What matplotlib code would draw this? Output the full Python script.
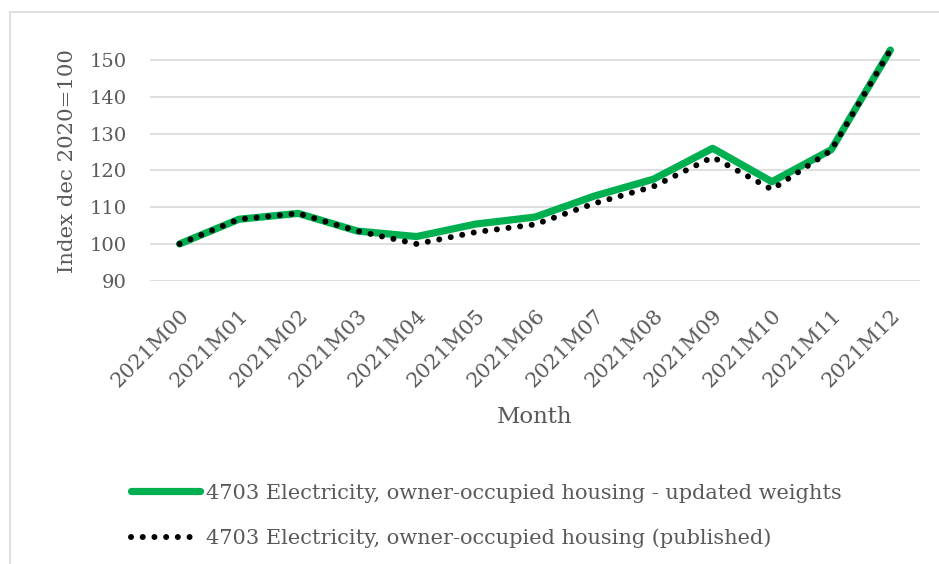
import matplotlib
matplotlib.use("Agg")
import matplotlib.pyplot as plt
from matplotlib.patches import Rectangle

months = ["2021M00", "2021M01", "2021M02", "2021M03", "2021M04", "2021M05", "2021M06",
          "2021M07", "2021M08", "2021M09", "2021M10", "2021M11", "2021M12"]
updated = [100.0, 106.7, 108.3, 103.5, 102.0, 105.4, 107.3, 113.0, 117.6, 126.0, 116.9, 125.6, 152.7]
published = [100.0, 106.7, 108.3, 103.5, 100.0, 103.2, 105.3, 111.0, 115.6, 123.6, 114.8, 125.4, 152.7]
yticks = [90, 100, 110, 120, 130, 140, 150]

plt.rcParams['font.family'] = ['DejaVu Serif']
txt = '#595959'

fig = plt.figure(figsize=(9.39, 5.64), dpi=100)
# left/top outer border of the chart area
fig.patches.append(Rectangle((10 / 939, -0.1), 1.2, 1.1 - 12 / 564, transform=fig.transFigure,
                             fill=False, edgecolor='#D9D9D9', linewidth=1.2))

ax = fig.add_axes([150 / 939, 1 - 280.7 / 564, 770 / 939, (280.7 - 41.6) / 564])
x = list(range(len(months)))
ax.plot(x, updated, color='#00B050', linewidth=5.2, solid_capstyle='round', solid_joinstyle='round',
        label='4703 Electricity, owner-occupied housing - updated weights', clip_on=False, zorder=3)
ax.plot(x, published, color='black', linewidth=4.3, linestyle=(0, (0.01, 1.95)), dash_capstyle='round',
        label='4703 Electricity, owner-occupied housing (published)', clip_on=False, zorder=4)

ax.set_xlim(-0.5, len(months) - 0.5)
ax.set_ylim(90, 155)
ax.set_yticks(yticks)
ax.set_xticks(x)
ax.set_xticklabels(months, rotation=45, ha='right', rotation_mode='anchor')
ax.grid(axis='y', color='#D9D9D9', linewidth=1.2)
ax.set_axisbelow(True)
for s in ax.spines.values():
    s.set_visible(False)
ax.tick_params(axis='y', length=0, labelsize=14, labelcolor=txt, pad=17)
ax.tick_params(axis='x', length=0, labelsize=15, labelcolor=txt, pad=18)
ax.set_ylabel('Index dec 2020=100', fontsize=15.3, color=txt, labelpad=9)
ax.set_xlabel('Month', fontsize=16.5, color=txt, labelpad=11)

leg = fig.legend(loc='upper left', bbox_to_anchor=(112 / 939, 1 - 465 / 564), frameon=False,
                 fontsize=15, labelcolor=txt, handlelength=3.3, handletextpad=0.3, labelspacing=1.25)

fig.savefig('out.png', dpi=100)
